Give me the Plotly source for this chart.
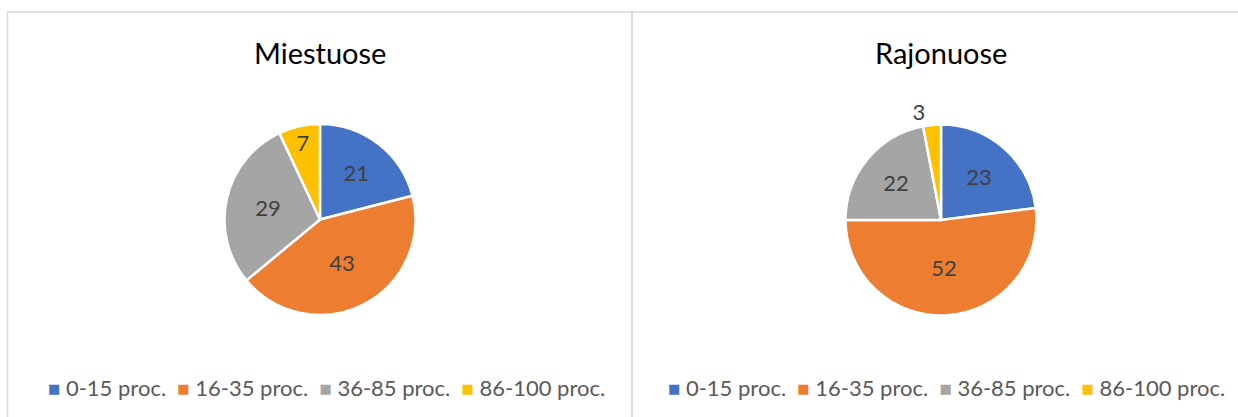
import plotly.graph_objects as go

labels = ["0-15 proc.", "16-35 proc.", "36-85 proc.", "86-100 proc."]
colors = ["#4472C4", "#ED7D31", "#A5A5A5", "#FFC000"]
titles = ["Miestuose", "Rajonuose"]
miestuose = [21, 43, 29, 7]
rajonuose = [23, 52, 22, 3]

W, H = 1238, 417
FONT = "Lato, Calibri, sans-serif"


def px(x):
    return x / W


def py(y):
    return 1 - y / H


fig = go.Figure()

# pies: values, centre x/y in px, title, legend centre x
panels = [
    (miestuose, 320, 219.5, titles[0], 326),
    (rajonuose, 941, 220, titles[1], 946),
]
r = 95.5
for values, cx, cy, title, lx in panels:
    small = [v < 5 for v in values]
    fig.add_trace(
        go.Pie(
            labels=labels,
            values=values,
            sort=False,
            direction="clockwise",
            rotation=0,
            marker=dict(colors=colors, line=dict(color="white", width=2.5)),
            textinfo="value",
            textposition=["outside" if s else "inside" for s in small],
            insidetextorientation="horizontal",
            textfont=dict(family=FONT, size=22, color="#404040"),
            domain=dict(x=[px(cx - r), px(cx + r)], y=[py(cy + r), py(cy - r)]),
            showlegend=False,
            hoverinfo="label+value",
        )
    )
    fig.add_annotation(text=title, x=px(cx), y=py(52), xref="paper", yref="paper",
                       showarrow=False, xanchor="center", yanchor="middle",
                       font=dict(family=FONT, size=29, color="#000000"))
    # legend row
    items = [
        f"<span style='color:{c};font-size:13px;font-family:DejaVu Sans;"
        f"baseline-shift:3px'>■</span>&nbsp;{lab}"
        for lab, c in zip(labels, colors)
    ]
    fig.add_annotation(text="&nbsp;&nbsp;".join(items), x=px(lx), y=py(387),
                       xref="paper", yref="paper", showarrow=False,
                       xanchor="center", yanchor="middle",
                       font=dict(family=FONT, size=22, color="#595959"))

# panel borders
fig.add_shape(type="rect", xref="paper", yref="paper",
              x0=px(7.5), x1=px(632), y0=-0.2, y1=py(12),
              line=dict(color="#d9d9d9", width=1.5), fillcolor="rgba(0,0,0,0)")
fig.add_shape(type="rect", xref="paper", yref="paper",
              x0=px(632), x1=px(1245), y0=-0.2, y1=py(12),
              line=dict(color="#d9d9d9", width=1.5), fillcolor="rgba(0,0,0,0)")

fig.update_layout(
    width=W,
    height=H,
    margin=dict(l=0, r=0, t=0, b=0),
    paper_bgcolor="white",
    plot_bgcolor="white",
)

fig.write_html("out.html", config={"displayModeBar": False},
               post_script="document.body.style.margin='0';")
